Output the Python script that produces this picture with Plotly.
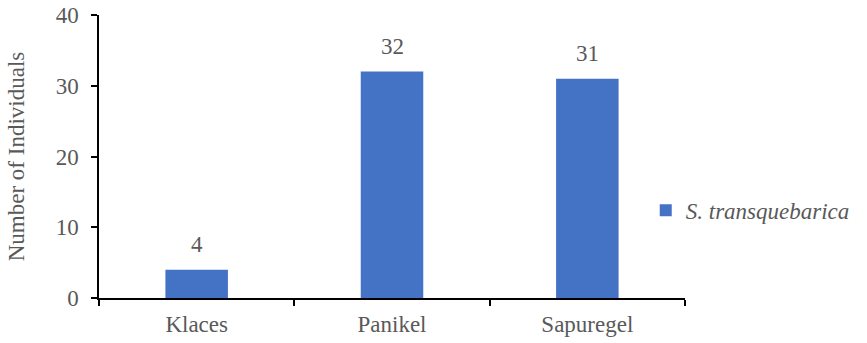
import plotly.graph_objects as go

sites = ["Klaces", "Panikel", "Sapuregel"]
individuals = [4, 32, 31]
species = "S. transquebarica"
y_ticks = [0, 10, 20, 30, 40]

FONT = "'Times New Roman', 'Liberation Serif', Tinos, 'DejaVu Serif', serif"
GRAY = "#595959"
BAR = "#4472C4"

fig = go.Figure()
fig.add_trace(go.Bar(
    x=sites,
    y=individuals,
    name=f"<i>{species}</i>",
    marker=dict(color=BAR, line=dict(width=0)),
    width=0.32,
    showlegend=True,
))

# value labels above each bar
for s, v in zip(sites, individuals):
    fig.add_annotation(
        x=s, y=v, text=str(v), showarrow=False,
        yanchor="bottom", yshift=11,
        font=dict(family=FONT, size=23, color=GRAY),
    )

fig.update_layout(
    width=867, height=343,
    margin=dict(l=99, r=180, t=15, b=45),
    paper_bgcolor="white", plot_bgcolor="white",
    font=dict(family=FONT, size=23, color=GRAY),
    showlegend=True,
    legend=dict(
        x=0.933, xanchor="left", y=0.31, yanchor="middle",
        font=dict(family=FONT, size=23, color=GRAY),
        itemwidth=30, tracegroupgap=0, borderwidth=0,
        bgcolor="rgba(0,0,0,0)",
    ),
    xaxis=dict(
        type="category",
        automargin=False,
        showline=True, linecolor="black", linewidth=1.5,
        ticks="outside", tickson="boundaries", ticklen=6,
        tickcolor="black", tickwidth=1.5,
        showgrid=False, zeroline=False,
        ticklabelstandoff=5,
        tickfont=dict(family=FONT, size=23, color=GRAY),
    ),
    yaxis=dict(
        range=[0, 40],
        automargin=False,
        tickvals=y_ticks,
        showline=True, linecolor="black", linewidth=1.5,
        ticks="outside", ticklen=6, tickcolor="black", tickwidth=1.5,
        showgrid=False, zeroline=False,
        ticklabelstandoff=8,
        tickfont=dict(family=FONT, size=23, color=GRAY),
        title=dict(text="Number of Individuals", standoff=25,
                   font=dict(family=FONT, size=23, color=GRAY)),
    ),
)

fig.write_html("out.html")
